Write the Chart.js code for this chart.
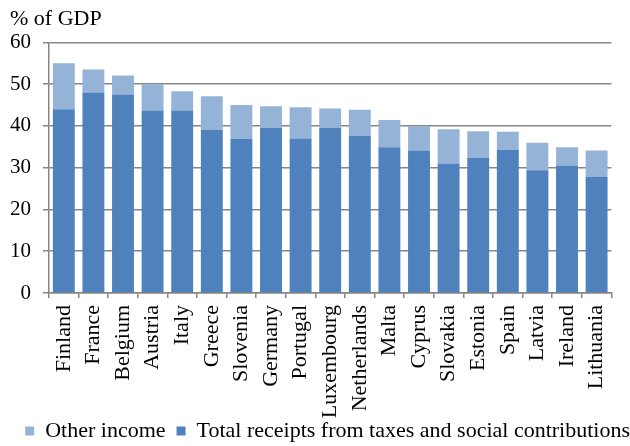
<!DOCTYPE html>
<html>
<head>
<meta charset="utf-8">
<script src="https://cdn.jsdelivr.net/npm/chart.js@4"></script>
<style>
  html, body { margin: 0; padding: 0; background: #fff; }
  #wrap { width: 630px; height: 446px; }
</style>
</head>
<body>
<div id="wrap"><canvas id="c" width="630" height="446"></canvas></div>
<script>
const countries = ['Finland', 'France', 'Belgium', 'Austria', 'Italy', 'Greece', 'Slovenia', 'Germany', 'Portugal',
  'Luxembourg', 'Netherlands', 'Malta', 'Cyprus', 'Slovakia', 'Estonia', 'Spain', 'Latvia', 'Ireland', 'Lithuania'];
const taxReceipts = [44.0, 48.0, 47.5, 43.7, 43.7, 39.0, 36.9, 39.5, 37.0, 39.5, 37.6, 34.9, 34.1, 31.0, 32.4, 34.3, 29.4, 30.5, 27.8];
const otherIncome = [11.0, 5.5, 4.6, 6.3, 4.6, 8.1, 8.1, 5.2, 7.5, 4.7, 6.3, 6.5, 5.8, 8.2, 6.3, 4.3, 6.6, 4.4, 6.3];
const yTicks = [0, 10, 20, 30, 40, 50, 60];

const serif = '"Liberation Serif", "Times New Roman", serif';
Chart.defaults.font.family = serif;
Chart.defaults.color = '#000';

new Chart(document.getElementById('c').getContext('2d'), {
  type: 'bar',
  data: {
    labels: countries,
    datasets: [
      {
        label: 'Total receipts from taxes and social contributions',
        data: taxReceipts,
        backgroundColor: '#4F81BD',
        barPercentage: 0.74,
        categoryPercentage: 1.0
      },
      {
        label: 'Other income',
        data: otherIncome,
        backgroundColor: '#95B3D7',
        barPercentage: 0.74,
        categoryPercentage: 1.0
      }
    ]
  },
  options: {
    responsive: false,
    animation: false,
    layout: { padding: { left: 10, right: 0, top: 0, bottom: 0 } },
    plugins: {
      title: {
        display: true,
        text: '% of GDP',
        align: 'start',
        font: { size: 22, weight: 'normal' },
        padding: { top: 6, bottom: 10 }
      },
      legend: {
        position: 'bottom',
        align: 'end',
        reverse: true,
        maxHeight: 26,
        labels: {
          boxWidth: 9,
          boxHeight: 9,
          padding: 0,
          font: { size: 22 },
          // a little room after the first entry
          generateLabels: chart => {
            const items = Chart.defaults.plugins.legend.labels.generateLabels(chart);
            items.forEach(it => { if (it.datasetIndex === 1) it.text += '  '; });
            return items;
          }
        }
      },
      tooltip: { enabled: false }
    },
    scales: {
      x: {
        stacked: true,
        afterFit: axis => { axis.height = 127; },
        grid: {
          offset: true,
          drawOnChartArea: false,
          drawTicks: true,
          tickLength: 5,
          color: '#868686',
          lineWidth: 1.5
        },
        border: { color: '#868686', width: 1.5 },
        ticks: {
          maxRotation: 90,
          minRotation: 90,
          autoSkip: false,
          font: { size: 22 },
          padding: 7
        }
      },
      y: {
        stacked: true,
        min: 0,
        max: 60,
        afterBuildTicks: axis => { axis.ticks = yTicks.map(v => ({ value: v })); },
        afterFit: axis => { axis.width = 39; },
        grid: {
          color: '#868686',
          lineWidth: 1.5,
          tickLength: 6
        },
        border: { color: '#868686', width: 1.5 },
        ticks: {
          font: { size: 21 },
          padding: 12
        }
      }
    }
  }
});
</script>
</body>
</html>
